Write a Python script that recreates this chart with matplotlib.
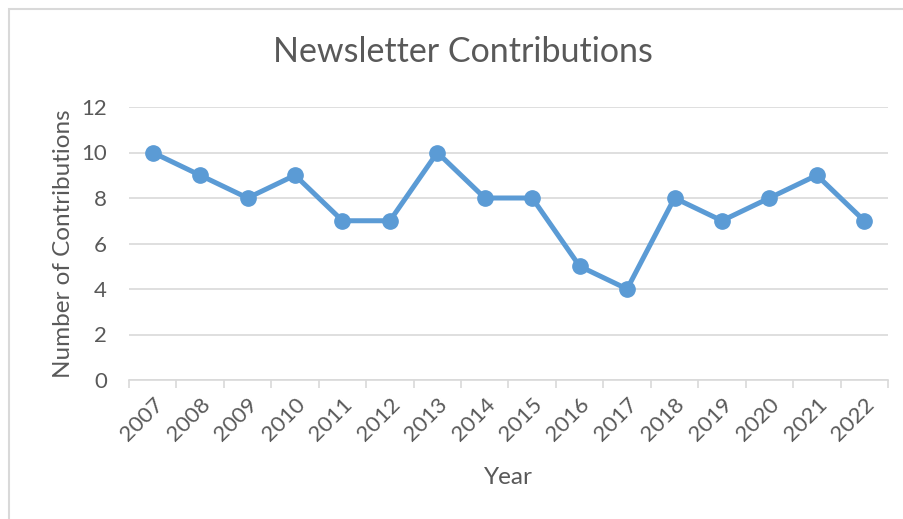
import matplotlib.pyplot as plt
from matplotlib.patches import Rectangle

years = ["2007", "2008", "2009", "2010", "2011", "2012", "2013", "2014",
         "2015", "2016", "2017", "2018", "2019", "2020", "2021", "2022"]
contributions = [10, 9, 8, 9, 7, 7, 10, 8, 8, 5, 4, 8, 7, 8, 9, 7]
y_ticks = [0, 2, 4, 6, 8, 10, 12]

text_col = "#595959"
grid_col = "#d9d9d9"
line_col = "#5b9bd5"

plt.rcParams['font.family'] = ['Lato', 'DejaVu Sans']

fig = plt.figure(figsize=(9.04, 5.19), dpi=100)
ax = fig.add_axes([129 / 904, 1 - 380 / 519, (888 - 129) / 904, (380 - 107) / 519])

# chart border (only top and left are visible in the crop)
fig.patches.append(Rectangle((9 / 904, -0.1), 1.2, 1.1 - 9 / 519, transform=fig.transFigure,
                             fill=False, edgecolor=grid_col, linewidth=1.5))

x = list(range(len(years)))
ax.plot(x, contributions, color=line_col, linewidth=3.6, marker="o", markersize=11,
        solid_capstyle="round", solid_joinstyle="round", zorder=3)

ax.set_xlim(-0.5, len(years) - 0.5)
ax.set_ylim(0, 12)
ax.set_yticks(y_ticks)
ax.set_xticks(x)
ax.set_xticklabels(years, rotation=45, ha="right", rotation_mode="anchor")
ax.set_xticks([i - 0.5 for i in range(len(years) + 1)], minor=True)

ax.grid(axis="y", color=grid_col, linewidth=1.2)
ax.set_axisbelow(True)
for s in ["top", "right", "left"]:
    ax.spines[s].set_visible(False)
ax.spines["bottom"].set_color(grid_col)
ax.spines["bottom"].set_linewidth(1.2)

ax.tick_params(axis="y", length=0, labelsize=16, labelcolor=text_col, pad=16)
ax.tick_params(axis="x", which="major", length=0, labelsize=16, labelcolor=text_col, pad=10)
ax.tick_params(axis="x", which="minor", length=6, color=grid_col, width=1.2)

ax.set_xlabel("Year", fontsize=17.5, color=text_col, labelpad=16)
ax.set_ylabel("Number of Contributions", fontsize=17.5, color=text_col, labelpad=5)
fig.text(463 / 904, 1 - 52 / 519, "Newsletter Contributions", fontsize=24.5,
         color=text_col, ha="center", va="center")

fig.savefig("out.png", dpi=100)
